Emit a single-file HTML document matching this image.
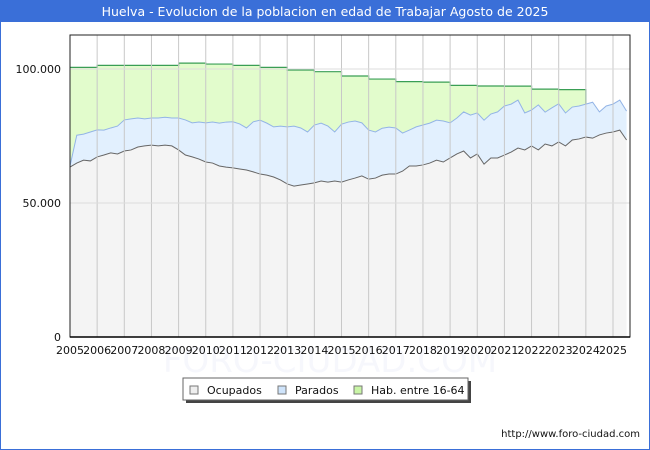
<!DOCTYPE html>
<html><head><meta charset="utf-8"><style>
body{margin:0;background:#fff;font-family:"DejaVu Sans","Liberation Sans",sans-serif;}
#wrap{position:relative;width:648px;height:449px;border:1px solid #3a6fd8;border-top:none;}
</style></head><body>
<div id="wrap">
<svg id="c" width="650" height="450" style="position:absolute;left:-1px;top:0"></svg>
</div>
<script>
const years=["2005","2006","2007","2008","2009","2010","2011","2012","2013","2014","2015","2016","2017","2018","2019","2020","2021","2022","2023","2024","2025"];
const yTicks=[0,50000,100000];
const yTickLabels=["0","50.000","100.000"];
// quarterly values (thousands), starting 2005 Q1
const ocupados=[63.4,64.9,66.0,65.7,67.2,67.9,68.7,68.3,69.4,69.8,70.9,71.3,71.6,71.3,71.6,71.3,69.8,67.9,67.2,66.4,65.3,64.9,63.8,63.4,63.1,62.7,62.3,61.6,60.8,60.4,59.7,58.6,57.1,56.3,56.7,57.1,57.5,58.2,57.8,58.2,57.8,58.6,59.3,60.1,58.9,59.3,60.4,60.8,60.8,61.9,63.8,63.8,64.2,64.9,66.0,65.3,66.8,68.3,69.4,66.8,68.3,64.5,66.8,66.8,67.9,69.0,70.5,69.8,71.3,69.8,72.0,71.3,72.8,71.3,73.5,73.9,74.6,74.2,75.4,76.1,76.5,77.2,73.5];
const parados=[0.4,10.4,9.7,10.8,10.1,9.3,9.3,10.4,11.6,11.6,10.8,10.1,10.1,10.4,10.4,10.4,11.9,13.1,12.7,13.8,14.6,15.3,16.0,16.8,17.2,16.8,15.7,18.7,20.1,19.4,18.7,20.1,21.3,22.4,21.3,19.4,21.6,21.6,20.9,18.3,21.6,21.6,21.3,19.8,18.3,17.2,17.5,17.5,17.2,14.2,13.4,14.6,14.9,14.9,14.9,15.3,13.1,13.4,14.6,16.0,15.3,16.4,16.4,17.2,18.3,17.9,17.9,13.8,13.4,16.8,11.9,14.2,14.2,12.3,12.3,12.3,12.3,13.4,8.6,10.1,10.4,11.2,10.8];
// yearly population 16-64 (thousands), 2005..2023
const habitantes=[100.6,101.35,101.35,101.35,102.2,101.85,101.35,100.6,99.6,99.0,97.4,96.25,95.3,95.1,93.9,93.65,93.6,92.5,92.3];

const NS="http://www.w3.org/2000/svg";
const svg=document.getElementById('c');
const X0=70,X1=630,YT=35,YB=337,yearW=27.15;
const xq=i=>X0+i*yearW/4;
const xy=yr=>X0+yr*yearW;
const ys=v=>YB-v/50000*134;
function el(tag,attrs,parent){const e=document.createElementNS(NS,tag);for(const k in attrs)e.setAttribute(k,attrs[k]);(parent||svg).appendChild(e);return e;}

const tb=el('rect',{x:0,y:0,width:650,height:22,fill:'#3a6fd8'});


const tt=el('text',{x:325,y:16,'text-anchor':'middle','font-size':12.5,fill:'#fff'});
tt.textContent='Huelva - Evolucion de la poblacion en edad de Trabajar Agosto de 2025';



const wm=el('text',{x:330,y:372,'text-anchor':'middle','font-size':34,fill:'#f6f7fc'});
wm.textContent='FORO-CIUDAD.COM';



const n=ocupados.length;
const tops=ocupados.map((o,i)=>(o+parados[i])*1000);
let hp=`M${X0},${ys(tops[0])}`;
habitantes.forEach((h,i)=>{hp+=` L${xy(i)},${ys(h*1000)} L${xy(i+1)},${ys(h*1000)}`;});
const lastQ=habitantes.length*4;
hp+=` L${xq(lastQ)},${ys(tops[lastQ])}`;
for(let i=lastQ;i>=0;i--)hp+=` L${xq(i)},${ys(tops[i])}`;
const ha=el('path',{d:hp+'Z',fill:'#e2fccc',stroke:'none'});


let hl=`M${X0},${ys(habitantes[0]*1000)}`;
habitantes.forEach((h,i)=>{hl+=` L${xy(i)},${ys(h*1000)} L${xy(i+1)},${ys(h*1000)}`;});
hl+=` L${xq(lastQ)},${ys(tops[lastQ])}`;
const hln=el('path',{d:hl,fill:'none',stroke:'#3a9e55','stroke-width':1.2});



let pp=`M${xq(0)},${ys(tops[0])}`;
for(let i=1;i<n;i++)pp+=` L${xq(i)},${ys(tops[i])}`;
let pl=pp;
for(let i=n-1;i>=0;i--)pp+=` L${xq(i)},${ys(ocupados[i]*1000)}`;
const pa=el('path',{d:pp+'Z',fill:'#e2f0fe'});


const pln=el('path',{d:pl,fill:'none',stroke:'#93b4e6','stroke-width':1});



let op=`M${xq(0)},${ys(ocupados[0]*1000)}`;
for(let i=1;i<n;i++)op+=` L${xq(i)},${ys(ocupados[i]*1000)}`;
const oa=el('path',{d:op+` L${xq(n-1)},${YB} L${X0},${YB}Z`,fill:'#f4f4f4'});


const oln=el('path',{d:op,fill:'none',stroke:'#666','stroke-width':1});



years.forEach((y,i)=>{
  const x=xy(i);
  if(i>0){const g=el('line',{x1:x,x2:x,y1:YT,y2:YB,stroke:'#c8c8c8','stroke-width':1});
  
  }
  const t=el('text',{x:x,y:354,'text-anchor':'middle','font-size':11,fill:'#111'});
  t.textContent=y;
  
  
});
yTicks.forEach((v,i)=>{
  const y=ys(v);
  if(v>0){const g=el('line',{x1:X0,x2:X1,y1:y,y2:y,stroke:'#ddd','stroke-width':1});
  
  }
  const t=el('text',{x:61,y:y+4,'text-anchor':'end','font-size':11,fill:'#111'});
  t.textContent=yTickLabels[i];
  
  
});
const fr=el('rect',{x:X0,y:YT,width:X1-X0,height:YB-YT,fill:'none',stroke:'#222','stroke-width':1});


const ax=el('line',{x1:X0,x2:X1,y1:YB,y2:YB,stroke:'#000','stroke-width':1.5});



const lg=el('g',{});


el('rect',{x:186,y:381,width:285,height:22,fill:'#444'},lg);
el('rect',{x:183,y:378,width:285,height:22,fill:'#fff',stroke:'#666'},lg);
const items=[["Ocupados","#eeeeee",190],["Parados","#cfe4fb",278],["Hab. entre 16-64","#c9f5a6",354]];
items.forEach(([lbl,c,x])=>{
  const g=el('g',{},lg);
  
  
  el('rect',{x:x,y:386,width:8,height:8,fill:c,stroke:'#777'},g);
  const t=el('text',{x:x+17,y:394,'font-size':11,fill:'#111'},g);
  t.textContent=lbl;
});
const ft=el('text',{x:640,y:437,'text-anchor':'end','font-size':10,fill:'#111'});
ft.textContent='http://www.foro-ciudad.com';


</script>
</body></html>
